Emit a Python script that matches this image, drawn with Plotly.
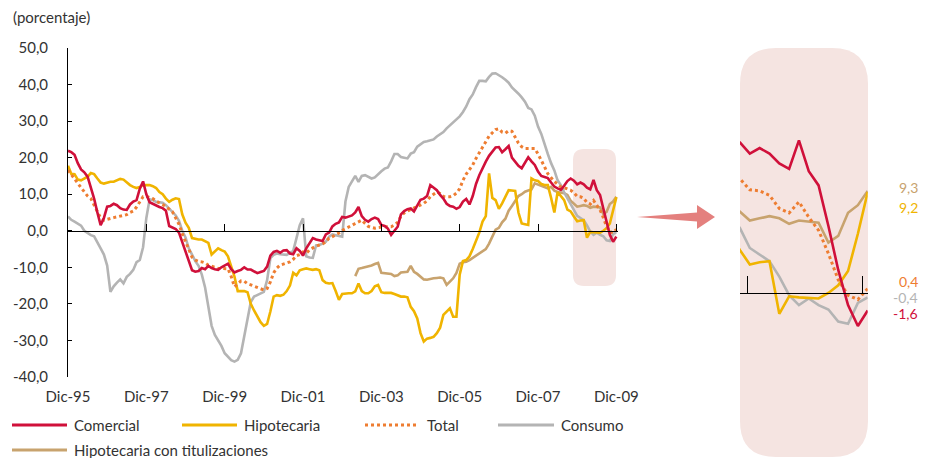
import plotly.graph_objects as go

# ---------------- data (monthly, Dic-95 .. Dic-09) ----------------
tick_labels = ["Dic-95", "Dic-97", "Dic-99", "Dic-01", "Dic-03", "Dic-05", "Dic-07", "Dic-09"]
y_ticks = [-40, -30, -20, -10, 0, 10, 20, 30, 40, 50]

comercial = [
    21.9, 21.5, 20.8, 18.5, 16.8, 16.0, 14.8, 11.8, 8.8, 5.0, 1.5, 3.5,
    6.6, 6.8, 7.4, 7.0, 6.2, 5.8, 5.7, 7.2, 8.0, 8.4, 11.5, 13.5,
    10.0, 7.8, 7.3, 6.9, 6.5, 6.2, 5.5, 1.3, 1.0, 0.5, -0.5, -3.0,
    -5.5, -8.5, -10.8, -11.2, -11.0, -10.2, -10.5, -9.6, -10.2, -10.5, -10.7, -10.0,
    -9.6, -9.0, -10.5, -11.4, -11.0, -10.7, -10.0, -10.6, -10.6, -11.0, -11.6, -11.3,
    -11.0, -9.8, -6.8, -5.8, -5.5, -6.0, -5.4, -5.3, -6.2, -6.4, -4.8, -5.5,
    -6.8, -4.8, -3.5, -2.0, -2.4, -2.7, -2.8, -1.0, -0.5, 1.2, 1.9, 2.3,
    3.8, 3.6, 3.8, 4.2, 5.0, 6.5, 4.0, 3.0, 2.5, 3.2, 3.6, 3.2,
    1.6, 1.3, 0.6, -1.1, 0.0, 1.1, 4.5, 5.4, 5.9, 6.1, 5.3, 6.8,
    8.5, 8.8, 9.5, 12.5, 11.8, 11.1, 9.8, 8.8, 7.4, 6.8, 6.6, 6.0,
    6.5, 8.0, 8.7, 7.2, 9.5, 12.8, 15.2, 17.2, 18.9, 20.5, 21.8, 22.8,
    22.9, 21.5, 22.3, 23.2, 20.0, 18.8, 17.8, 17.1, 18.8, 20.1, 19.0, 18.0,
    16.2, 15.0, 14.7, 14.4, 13.2, 12.1, 11.6, 11.2, 12.3, 13.6, 14.3, 13.7,
    12.7, 13.2, 12.7, 11.8, 11.3, 13.9, 11.1, 9.8, 6.1, 2.1, -1.1, -3.0,
    -1.6,
]

hipotecaria = [
    17.8, 15.6, 15.5, 14.0, 13.8, 14.2, 14.8, 15.8, 15.5, 14.3, 13.2, 12.9,
    13.2, 13.4, 13.4, 13.7, 14.2, 14.0, 13.2, 12.5, 12.0, 11.7, 12.0, 12.5,
    12.5, 12.5, 12.2, 11.7, 10.6, 10.0, 8.8, 7.9, 8.5, 8.9, 8.7, 4.5,
    2.2, 0.8, -2.0, -2.3, -2.4, -2.4, -2.9, -3.3, -6.5, -5.5, -4.8, -5.3,
    -5.7, -7.0, -9.8, -12.5, -16.5, -16.5, -16.5, -16.8, -20.0, -21.8, -23.5, -25.0,
    -26.0, -25.5, -22.1, -18.0, -17.6, -17.8, -17.5, -16.5, -15.0, -11.5, -12.2, -10.8,
    -10.5, -10.3, -10.5, -10.7, -10.5, -10.8, -13.5, -14.2, -14.4, -14.3, -16.5, -18.9,
    -17.3, -17.1, -17.1, -17.1, -16.6, -14.4, -16.5, -17.1, -17.1, -16.5, -15.2, -14.8,
    -16.8, -17.0, -17.0, -17.0, -17.3, -17.6, -18.0, -18.0, -18.2, -20.8, -22.0, -24.0,
    -28.0, -30.3, -29.5, -29.3, -29.0, -28.0, -26.5, -23.0, -22.0, -21.2, -23.5, -23.5,
    -12.0, -8.3, -8.0, -7.0, -5.0, -3.0, -0.5, 2.5, 4.0, 15.7, 9.0, 8.4,
    6.0, 7.5, 9.3, 11.1, 11.0, 10.9, 5.0, 2.0, 1.8, 1.6, 14.3, 13.8,
    13.6, 12.8, 12.5, 12.5, 9.0, 5.0, 10.6, 9.5, 8.4, 5.8, 5.3, 3.9,
    2.6, 2.8, 2.9, -1.9, -0.3, -0.4, -0.45, -0.5, 0.0, 0.7, 2.0, 5.4,
    9.2,
]

total = [
    16.6, 15.5, 14.3, 13.0, 11.8, 10.5, 9.5, 8.8, 7.0, 5.0, 3.5, 2.9,
    3.2, 3.4, 3.6, 3.8, 4.0, 4.2, 4.4, 5.0, 5.4, 6.5, 7.8, 9.3,
    9.4, 9.1, 8.8, 8.1, 7.7, 7.2, 6.6, 6.0, 5.2, 3.5, 1.8, -0.8,
    -3.0, -5.5, -7.2, -8.0, -8.4, -8.5, -8.8, -9.4, -9.8, -10.0, -10.3, -10.3,
    -10.2, -10.4, -12.5, -15.3, -14.5, -13.7, -13.8, -14.5, -14.8, -15.2, -15.5, -15.9,
    -16.2, -15.8, -14.0, -11.5, -10.2, -9.4, -9.2, -8.8, -8.5, -7.8, -6.8, -6.5,
    -5.8, -6.2, -5.2, -4.6, -4.2, -3.9, -3.6, -3.0, -2.0, -1.6, -1.2, -0.6,
    0.1, 0.5, 1.0, 1.5, 2.0, 2.5, 2.9, 2.0, 1.2, 0.9, 0.7, 0.9,
    1.1, 1.1, 1.1, 1.1, 1.6, 2.3, 4.0, 4.9, 5.4, 5.8, 6.2, 6.6,
    7.0, 7.5, 8.2, 9.3, 10.0, 10.6, 10.2, 9.4, 9.3, 9.3, 9.6, 10.3,
    11.5, 13.8, 15.5, 16.8, 18.0, 19.8, 21.3, 22.7, 24.5, 25.9, 26.8, 27.7,
    27.9, 27.0, 26.7, 27.4, 27.2, 25.4, 24.0, 23.0, 22.5, 22.5, 22.5, 22.5,
    21.0, 19.4, 17.5, 15.6, 14.5, 13.5, 12.7, 12.0, 11.8, 11.5, 11.1, 10.4,
    9.4, 9.3, 8.9, 7.7, 7.3, 8.3, 6.9, 5.7, 3.6, 1.2, -0.2, -0.6,
    0.4,
]

consumo = [
    3.9, 3.0, 2.5, 2.0, 1.4, 0.0, -0.6, -1.2, -1.5, -3.0, -4.8, -6.5,
    -9.5, -16.7, -15.2, -14.2, -13.3, -14.4, -12.6, -11.8, -10.7, -8.6, -8.0, -4.5,
    3.5, 8.6, 8.4, 7.9, 7.8, 7.7, 7.0, 6.0, 5.2, 4.2, 2.7, 0.0,
    -1.8, -4.8, -6.5, -8.3, -9.6, -12.0, -15.5, -21.0, -26.0, -28.5, -29.9, -31.5,
    -33.5, -34.5, -35.4, -35.8, -35.3, -33.5, -29.0, -23.5, -19.5, -18.0, -17.6, -17.0,
    -16.7, -13.5, -7.5, -6.6, -6.2, -6.4, -6.6, -6.6, -6.0, -5.5, -2.0, 1.5,
    3.4, -7.0, -7.3, -7.4, -4.0, -3.9, -3.5, -3.0, -1.6, -1.0, -1.2, -1.4,
    -1.6, 8.0, 12.0, 13.5, 15.0, 13.4, 15.0, 15.2, 14.8, 14.3, 14.6, 15.5,
    16.3, 17.0, 17.3, 19.0, 21.0, 21.0, 20.2, 20.0, 19.8, 21.1, 21.5, 23.0,
    23.6, 24.3, 24.5, 24.8, 25.0, 25.8, 26.3, 27.0, 28.0, 28.8, 29.8, 30.6,
    31.3, 32.5, 34.0, 36.0, 37.3, 39.3, 41.0, 41.0, 40.9, 42.1, 43.0, 43.1,
    42.6, 42.0, 41.3, 40.5, 39.2, 38.4, 37.5, 36.5, 35.3, 33.6, 33.2, 31.5,
    28.5, 26.5, 23.5, 21.0, 18.5, 16.5, 13.8, 12.5, 10.5, 8.9, 7.2, 5.9,
    4.1, 3.5, 2.9, 1.5, -0.2, -1.1, -0.5, -1.1, -1.5, -2.6, -2.8, -0.9,
    -0.4,
]

# starts in month 88 (Abr-03)
hipotecaria_tit_inicio = 88
hipotecaria_tit = [
    -12.4, -10.4, -10.2, -10.0, -9.8, -9.5, -9.1, -8.8,
    -11.5, -11.6, -11.7, -11.8, -12.4, -12.2, -11.4, -11.2, -11.2, -9.6, -11.2, -11.8,
    -12.5, -13.3, -13.4, -13.1, -13.0, -12.9, -12.8, -13.0, -14.8, -13.9, -13.0, -11.5,
    -9.0, -8.6, -8.5, -8.0, -7.4, -6.8, -6.4, -5.6, -5.0, -3.5, -1.5, 0.3,
    0.8, 2.3, 3.3, 5.5, 6.8, 8.0, 9.5, 10.0, 10.7, 11.0, 11.3, 13.0,
    12.6, 12.3, 11.8, 11.6, 12.0, 11.0, 10.6, 10.4, 10.3, 9.8, 8.2, 7.4,
    6.6, 6.8, 7.0, 6.8, 6.3, 6.6, 6.5, 6.4, 4.6, 5.2, 7.3, 8.0,
    9.3,
]

# ---------------- styling ----------------
W, H = 930, 458
FONT = "Lato"
TXT = "#333333"
C_COM = "#D0103A"
C_HIP = "#F0B400"
C_TOT = "#EE7D31"
C_CON = "#B4B4B4"
C_TIT = "#C8A36E"
PINK = "#F5E4E1"


def px(x):
    return x / W


def py(y):
    return (H - y) / H


def rrect_path(x0, y0, x1, y1, r):
    pts = [
        ("M", [(x0 + r, y0)]), ("L", [(x1 - r, y0)]), ("Q", [(x1, y0), (x1, y0 + r)]),
        ("L", [(x1, y1 - r)]), ("Q", [(x1, y1), (x1 - r, y1)]), ("L", [(x0 + r, y1)]),
        ("Q", [(x0, y1), (x0, y1 - r)]), ("L", [(x0, y0 + r)]), ("Q", [(x0, y0), (x0 + r, y0)]),
    ]
    s = ""
    for cmd, ps in pts:
        s += cmd + " " + " ".join(f"{px(a):.5f},{py(b):.5f}" for a, b in ps) + " "
    return s + "Z"


x_all = list(range(len(comercial)))
x_tit = list(range(hipotecaria_tit_inicio, hipotecaria_tit_inicio + len(hipotecaria_tit)))

series = [
    ("Hipotecaria con titulizaciones", x_tit, hipotecaria_tit, C_TIT, "solid"),
    ("Consumo", x_all, consumo, C_CON, "solid"),
    ("Hipotecaria", x_all, hipotecaria, C_HIP, "solid"),
    ("Total", x_all, total, C_TOT, "dot"),
    ("Comercial", x_all, comercial, C_COM, "solid"),
]

fig = go.Figure()
for xa, ya in (("x", "y"), ("x2", "y2")):
    for name, xs, ys, col, dash in series:
        fig.add_trace(go.Scatter(
            x=xs, y=ys, mode="lines", name=name, xaxis=xa, yaxis=ya,
            line=dict(color=col, width=3 if dash == "dot" else 2.6, dash=dash),
            showlegend=False, hoverinfo="skip",
        ))
# helper traces so the zero-line axes are drawn
fig.add_trace(go.Scatter(x=[None], y=[None], xaxis="x3", yaxis="y", showlegend=False))
fig.add_trace(go.Scatter(x=[None], y=[None], xaxis="x4", yaxis="y2", showlegend=False))

main_dom = [px(68), px(618)]
main_range = [0, 168.5]
zoom_dom = [px(740), px(867.7)]
zoom_range = [155, 168]

fig.update_layout(
    width=W, height=H, autosize=False,
    margin=dict(l=0, r=0, t=0, b=0, pad=0, autoexpand=False),
    paper_bgcolor="white", plot_bgcolor="rgba(0,0,0,0)",
    font=dict(family=FONT, size=15, color=TXT),
    xaxis=dict(domain=main_dom, range=main_range, anchor="y", automargin=False,
               tickvals=[24 * i for i in range(len(tick_labels))], ticktext=tick_labels,
               showline=False, ticks="", showgrid=False, zeroline=False,
               ticklabelstandoff=9, tickfont=dict(size=15, color=TXT)),
    yaxis=dict(domain=[py(377), py(48)], range=[-40, 50], anchor="x", automargin=False,
               tickvals=y_ticks, ticktext=[f"{v:.1f}".replace(".", ",") for v in y_ticks],
               showline=True, linecolor="black", linewidth=1,
               ticks="inside", ticklen=4, tickcolor="black",
               showgrid=False, zeroline=False, ticklabelstandoff=16,
               tickfont=dict(size=15, color=TXT)),
    xaxis3=dict(overlaying="x", anchor="free", position=py(230.7), range=main_range,
                automargin=False,
                showline=True, linecolor="black", linewidth=1,
                ticks="inside", ticklen=7, tickcolor="black",
                tickvals=[24 * i for i in range(len(tick_labels))],
                showticklabels=False, showgrid=False, zeroline=False),
    xaxis2=dict(domain=zoom_dom, range=zoom_range, anchor="y2", visible=False, automargin=False),
    yaxis2=dict(domain=[py(402.8), py(128.3)], range=[-10, 15], anchor="x2", visible=False,
                automargin=False),
    xaxis4=dict(overlaying="x2", anchor="free", position=py(293), range=zoom_range,
                automargin=False,
                showline=True, linecolor="black", linewidth=1,
                ticks="inside", ticklen=17, tickcolor="black",
                tickvals=[155.8, 167.5],
                showticklabels=False, showgrid=False, zeroline=False),
)

shapes = [
    dict(type="path", xref="paper", yref="paper", layer="below",
         path=rrect_path(573, 149, 616, 286, 11), fillcolor=PINK, line=dict(width=0)),
    dict(type="path", xref="paper", yref="paper", layer="below",
         path=rrect_path(740, 48, 868, 457, 36), fillcolor=PINK, line=dict(width=0)),
]
# arrow
arrow = [(637, 217), (697, 212.5), (697, 205), (715, 217), (697, 229), (697, 221.5)]
apath = "M " + " L ".join(f"{px(a):.5f},{py(b):.5f}" for a, b in arrow) + " Z"
shapes.append(dict(type="path", xref="paper", yref="paper", path=apath,
                   fillcolor="#E4807E", line=dict(width=0)))

# legend (drawn by hand)
legend_items = [
    ("Comercial", C_COM, "solid", 12, 67, 72, 425),
    ("Hipotecaria", C_HIP, "solid", 182, 237, 242, 425),
    ("Total", C_TOT, "dot", 365, 417, 425, 425),
    ("Consumo", C_CON, "solid", 498, 554, 559, 425),
    ("Hipotecaria con titulizaciones", C_TIT, "solid", 12, 67, 72, 450),
]
annotations = []
for name, col, dash, x0, x1, xt, yy in legend_items:
    shapes.append(dict(type="line", xref="paper", yref="paper",
                       x0=px(x0), x1=px(x1), y0=py(yy), y1=py(yy),
                       line=dict(color=col, width=3, dash=dash)))
    annotations.append(dict(text=name, x=px(xt), y=py(yy), xref="paper", yref="paper",
                            xanchor="left", yanchor="middle", showarrow=False,
                            font=dict(size=15, color=TXT, family=FONT)))

annotations.append(dict(text="(porcentaje)", x=px(11), y=py(17), xref="paper", yref="paper",
                        xanchor="left", yanchor="middle", showarrow=False,
                        font=dict(size=15, color=TXT, family=FONT)))

# end-value labels of the zoom panel
end_labels = [
    (hipotecaria_tit[-1], C_TIT, 187),
    (hipotecaria[-1], C_HIP, 208),
    (total[-1], C_TOT, 281),
    (consumo[-1], C_CON, 297),
    (comercial[-1], C_COM, 313),
]
for v, col, yy in end_labels:
    annotations.append(dict(text=f"{v:.1f}".replace(".", ","), x=px(920), y=py(yy),
                            xref="paper", yref="paper", xanchor="right", yanchor="middle",
                            showarrow=False, font=dict(size=14, color=col, family=FONT)))

fig.update_layout(shapes=shapes, annotations=annotations)
fig.write_html(
    "out.html",
    config={"displayModeBar": False},
    post_script="document.body.style.margin='0';document.body.style.overflow='hidden';",
)
